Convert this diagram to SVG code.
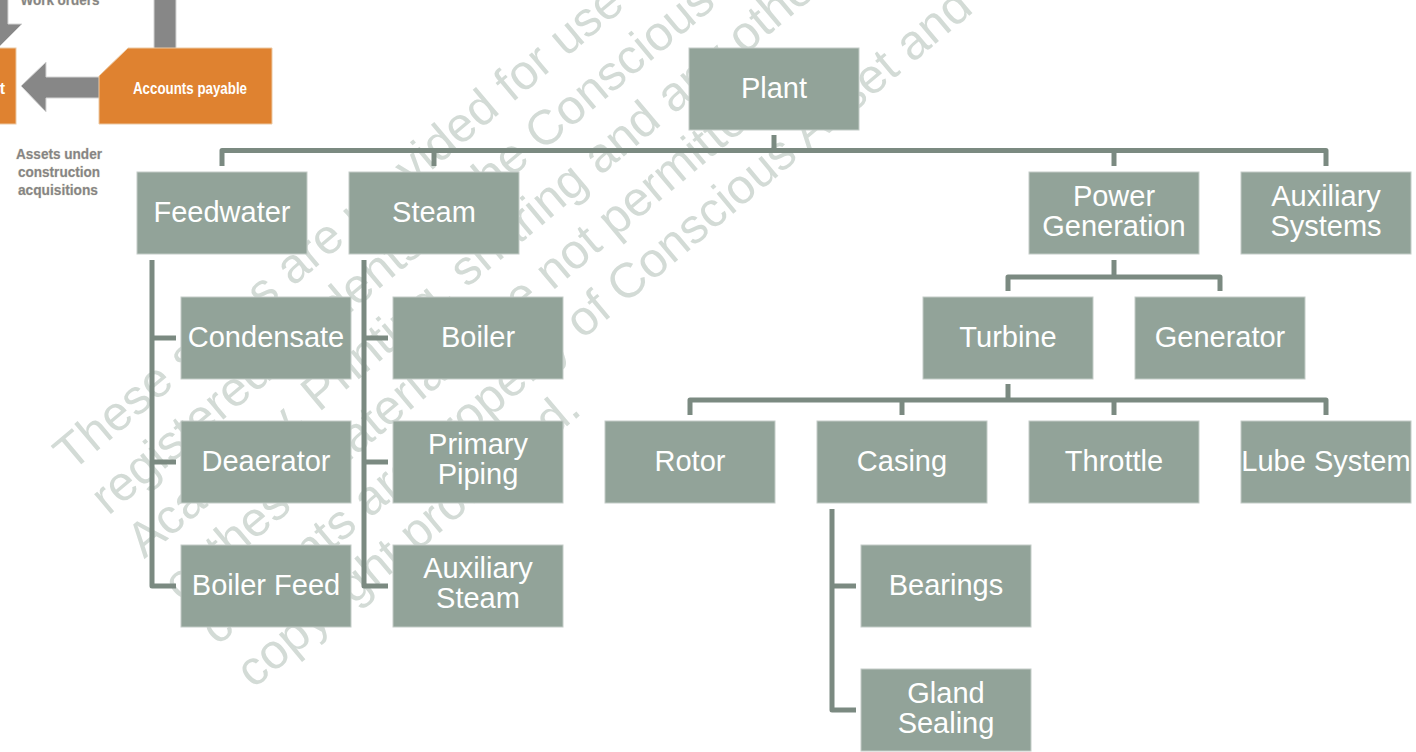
<svg xmlns="http://www.w3.org/2000/svg" width="1416" height="752" viewBox="0 0 1416 752">
<style>
.node rect{fill:#92a399;stroke:#c3ccc7;stroke-width:1}
.node text{font-family:"Liberation Sans",Arial,sans-serif;font-size:29px;fill:#ffffff;text-anchor:middle}
.conn path{fill:none;stroke:#7b8a81;stroke-width:5;stroke-linejoin:round}
.wm text{font-family:"Liberation Sans",Arial,sans-serif;font-size:49px;fill:#d3dbd6}
.frag .arrow{fill:#878787;stroke:#d4d4d4;stroke-width:1}
.frag .obox{fill:#df8230;stroke:#ecc9a3;stroke-width:1}
.frag .otext{font-family:"Liberation Sans",Arial,sans-serif;font-weight:bold;font-size:16px;fill:#ffffff}
.frag .gtext{font-family:"Liberation Sans",Arial,sans-serif;font-weight:bold;font-size:15px;fill:#858585;stroke:#e2d8c4;stroke-width:0.6;paint-order:stroke;text-anchor:middle}
</style>
<rect width="1416" height="752" fill="#ffffff"/>

<g id="watermark" class="wm" transform="rotate(-40)">
<text x="-249" y="408">These slides are provided for use of</text>
<text x="-249" y="465">registered students of the Conscious Asset</text>
<text x="-249" y="521">Academy. Printing, sharing and any other use</text>
<text x="-249" y="578">of these materials are not permitted.</text>
<text x="-249" y="635">contents are property of Conscious Asset and</text>
<text x="-249" y="691">copyright protected.</text>
</g>

<g id="fragment" class="frag">
<polygon class="arrow" points="-20,-2 8,-2 8,24 22,24 0,46 -20,30"/>
<rect class="arrow" x="154" y="-2" width="22" height="51"/>
<polygon class="arrow" points="100,77 46,77 46,62 21,86 46,112 46,98 100,98"/>
<rect class="obox" x="-10" y="48" width="26" height="76"/>
<text class="otext" x="5" y="94" text-anchor="end">t</text>
<polygon class="obox" points="128,48 272,48 272,124 99,124 99,76"/>
<text class="otext" x="133" y="94" textLength="114" lengthAdjust="spacingAndGlyphs">Accounts payable</text>
<text class="gtext" x="60" y="5" textLength="79" lengthAdjust="spacingAndGlyphs">Work orders</text>
<text class="gtext" x="59" y="159" textLength="86" lengthAdjust="spacingAndGlyphs">Assets under</text>
<text class="gtext" x="59" y="177" textLength="82" lengthAdjust="spacingAndGlyphs">construction</text>
<text class="gtext" x="58" y="195" textLength="80" lengthAdjust="spacingAndGlyphs">acquisitions</text>
</g>

<g id="connectors" class="conn">
<path d="M774,135 V150.5"/>
<path d="M222,166 V150.5 H1326 V166"/>
<path d="M434,150.5 V166"/>
<path d="M1114,150.5 V166"/>
<path d="M152,260 V586 H176"/>
<path d="M152,338 H176"/>
<path d="M152,462 H176"/>
<path d="M364,260 V586 H388"/>
<path d="M364,338 H388"/>
<path d="M364,462 H388"/>
<path d="M1114,260 V277"/>
<path d="M1008,291 V277 H1220 V291"/>
<path d="M1008,384 V400"/>
<path d="M690,415 V400 H1326 V415"/>
<path d="M902,400 V415"/>
<path d="M1114,400 V415"/>
<path d="M832,509 V710 H856"/>
<path d="M832,586 H856"/>
</g>

<g id="plant" class="node"><rect x="689" y="48" width="170" height="82"/><text x="774" y="98">Plant</text></g>
<g id="feedwater" class="node"><rect x="137" y="172" width="170" height="82"/><text x="222" y="222">Feedwater</text></g>
<g id="steam" class="node"><rect x="349" y="172" width="170" height="82"/><text x="434" y="222">Steam</text></g>
<g id="power-generation" class="node"><rect x="1029" y="172" width="170" height="82"/><text x="1114" y="206">Power</text><text x="1114" y="236">Generation</text></g>
<g id="auxiliary-systems" class="node"><rect x="1241" y="172" width="170" height="82"/><text x="1326" y="206">Auxiliary</text><text x="1326" y="236">Systems</text></g>
<g id="condensate" class="node"><rect x="181" y="297" width="170" height="82"/><text x="266" y="347">Condensate</text></g>
<g id="boiler" class="node"><rect x="393" y="297" width="170" height="82"/><text x="478" y="347">Boiler</text></g>
<g id="turbine" class="node"><rect x="923" y="297" width="170" height="82"/><text x="1008" y="347">Turbine</text></g>
<g id="generator" class="node"><rect x="1135" y="297" width="170" height="82"/><text x="1220" y="347">Generator</text></g>
<g id="deaerator" class="node"><rect x="181" y="421" width="170" height="82"/><text x="266" y="471">Deaerator</text></g>
<g id="primary-piping" class="node"><rect x="393" y="421" width="170" height="82"/><text x="478" y="454">Primary</text><text x="478" y="484">Piping</text></g>
<g id="rotor" class="node"><rect x="605" y="421" width="170" height="82"/><text x="690" y="471">Rotor</text></g>
<g id="casing" class="node"><rect x="817" y="421" width="170" height="82"/><text x="902" y="471">Casing</text></g>
<g id="throttle" class="node"><rect x="1029" y="421" width="170" height="82"/><text x="1114" y="471">Throttle</text></g>
<g id="lube-system" class="node"><rect x="1241" y="421" width="170" height="82"/><text x="1326" y="471">Lube System</text></g>
<g id="boiler-feed" class="node"><rect x="181" y="545" width="170" height="82"/><text x="266" y="595">Boiler Feed</text></g>
<g id="auxiliary-steam" class="node"><rect x="393" y="545" width="170" height="82"/><text x="478" y="578">Auxiliary</text><text x="478" y="608">Steam</text></g>
<g id="bearings" class="node"><rect x="861" y="545" width="170" height="82"/><text x="946" y="595">Bearings</text></g>
<g id="gland-sealing" class="node"><rect x="861" y="669" width="170" height="82"/><text x="946" y="703">Gland</text><text x="946" y="733">Sealing</text></g>
</svg>
